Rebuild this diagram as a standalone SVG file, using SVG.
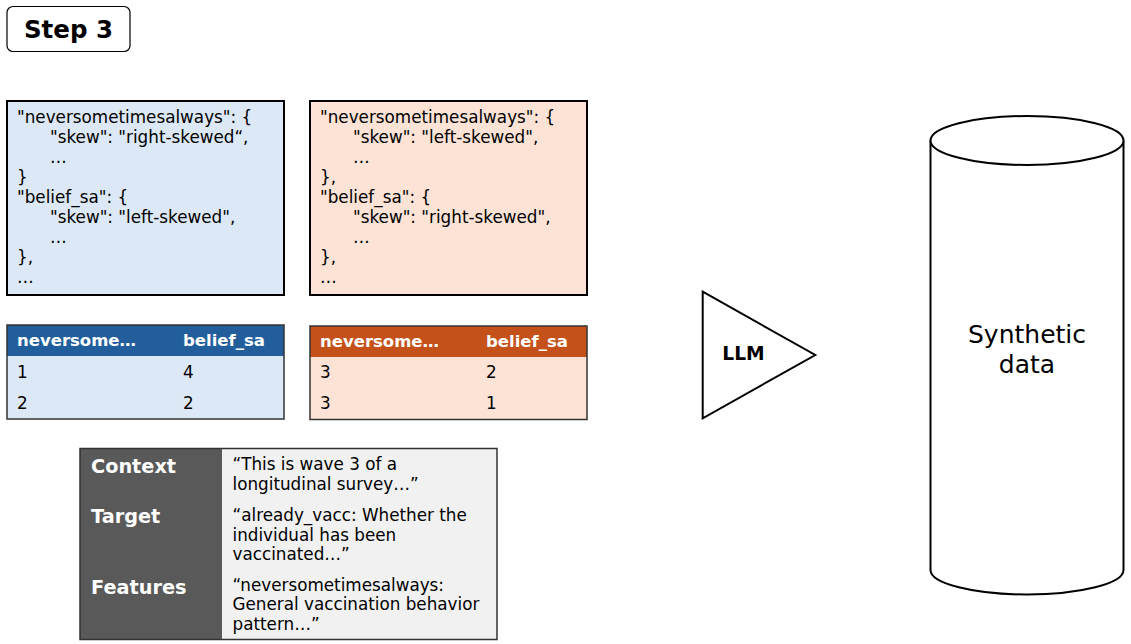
<svg xmlns="http://www.w3.org/2000/svg" width="1131" height="644" viewBox="0 0 1131 644">
<style>
text{font-family:"DejaVu Sans","Liberation Sans",sans-serif;fill:#000}
.t{font-size:16.8px}
.h{font-size:16.5px;font-weight:bold;fill:#fff}
.b{font-weight:bold}
.w{fill:#fff}
.json{stroke:#000;stroke-width:2}
.tbl{stroke:#333;stroke-width:1.5}
</style>
<rect width="1131" height="644" fill="#fff"/>
<g id="step3">
<rect x="7" y="6.5" width="123" height="45" rx="6" fill="#fff" stroke="#000" stroke-width="1.2"/>
<text x="68.5" y="37.7" font-size="24.5" class="b" text-anchor="middle">Step 3</text>
</g>
<g id="json-blue">
<rect x="7" y="101" width="277" height="194" fill="#DCE8F6" class="json"/>
<text class="t" x="17" y="123.3">"neversometimesalways": {</text>
<text class="t" x="50" y="143.3">"skew": "right-skewed“,</text>
<text class="t" x="50" y="163.3">…</text>
<text class="t" x="17" y="183.3">}</text>
<text class="t" x="17" y="203.3">"belief_sa": {</text>
<text class="t" x="50" y="223.3">"skew": "left-skewed",</text>
<text class="t" x="50" y="243.3">…</text>
<text class="t" x="17" y="263.3">},</text>
<text class="t" x="17" y="283.3">…</text>
</g>
<g id="json-orange">
<rect x="310" y="101" width="277" height="194" fill="#FCE3D6" class="json"/>
<text class="t" x="320" y="123.3">"neversometimesalways": {</text>
<text class="t" x="353" y="143.3">"skew": "left-skewed",</text>
<text class="t" x="353" y="163.3">…</text>
<text class="t" x="320" y="183.3">},</text>
<text class="t" x="320" y="203.3">"belief_sa": {</text>
<text class="t" x="353" y="223.3">"skew": "right-skewed",</text>
<text class="t" x="353" y="243.3">…</text>
<text class="t" x="320" y="263.3">},</text>
<text class="t" x="320" y="283.3">…</text>
</g>
<g id="table-blue">
<rect x="7" y="325" width="277" height="94" fill="#DCE8F6"/>
<rect x="7" y="325" width="277" height="31" fill="#215E9B"/>
<rect x="7" y="325" width="277" height="94" fill="none" class="tbl"/>
<text class="h" x="17" y="346">neversome…</text>
<text class="h" x="183" y="346">belief_sa</text>
<text class="t" x="17" y="378.3">1</text>
<text class="t" x="183" y="378.3">4</text>
<text class="t" x="17" y="409.3">2</text>
<text class="t" x="183" y="409.3">2</text>
</g>
<g id="table-orange">
<rect x="310" y="326" width="277" height="93.5" fill="#FCE3D6"/>
<rect x="310" y="326" width="277" height="31" fill="#C4511A"/>
<rect x="310" y="326" width="277" height="93.5" fill="none" class="tbl"/>
<text class="h" x="320" y="347.3">neversome…</text>
<text class="h" x="486" y="347.3">belief_sa</text>
<text class="t" x="320" y="378.3">3</text>
<text class="t" x="486" y="378.3">2</text>
<text class="t" x="320" y="409.3">3</text>
<text class="t" x="486" y="409.3">1</text>
</g>
<g id="context-table">
<rect x="80" y="448.5" width="417" height="191" fill="#F1F1F1"/>
<rect x="80" y="448.5" width="142" height="191" fill="#595959"/>
<rect x="80" y="448.5" width="417" height="191" fill="none" class="tbl"/>
<text class="b w" font-size="19.3" x="91" y="473">Context</text>
<text class="b w" font-size="19.3" x="91" y="522.5">Target</text>
<text class="b w" font-size="19.3" x="91" y="593.5">Features</text>
<text class="t" x="232.5" y="470">“This is wave 3 of a</text>
<text class="t" x="232.5" y="489.5">longitudinal survey…”</text>
<text class="t" x="232.5" y="521">“already_vacc: Whether the</text>
<text class="t" x="232.5" y="540.5">individual has been</text>
<text class="t" x="232.5" y="560">vaccinated…”</text>
<text class="t" x="232.5" y="590.5">“neversometimesalways:</text>
<text class="t" x="232.5" y="610">General vaccination behavior</text>
<text class="t" x="232.5" y="629.5">pattern…”</text>
</g>
<g id="llm">
<polygon points="702.7,291.7 815.3,355 702.7,418.3" fill="#fff" stroke="#000" stroke-width="2"/>
<text x="743.5" y="360" font-size="18.7" class="b" text-anchor="middle">LLM</text>
</g>
<g id="synthetic-data">
<path d="M930.5,140.5 L930.5,570 A96.5,24.5 0 0 0 1123.5,570 L1123.5,140.5" fill="#fff" stroke="#000" stroke-width="2"/>
<ellipse cx="1027" cy="140.5" rx="96.5" ry="24.5" fill="#fff" stroke="#000" stroke-width="2"/>
<text x="1027" y="342.5" font-size="25" text-anchor="middle">Synthetic</text>
<text x="1027" y="372.5" font-size="25" text-anchor="middle">data</text>
</g>
<g id="connectors"></g>
</svg>
